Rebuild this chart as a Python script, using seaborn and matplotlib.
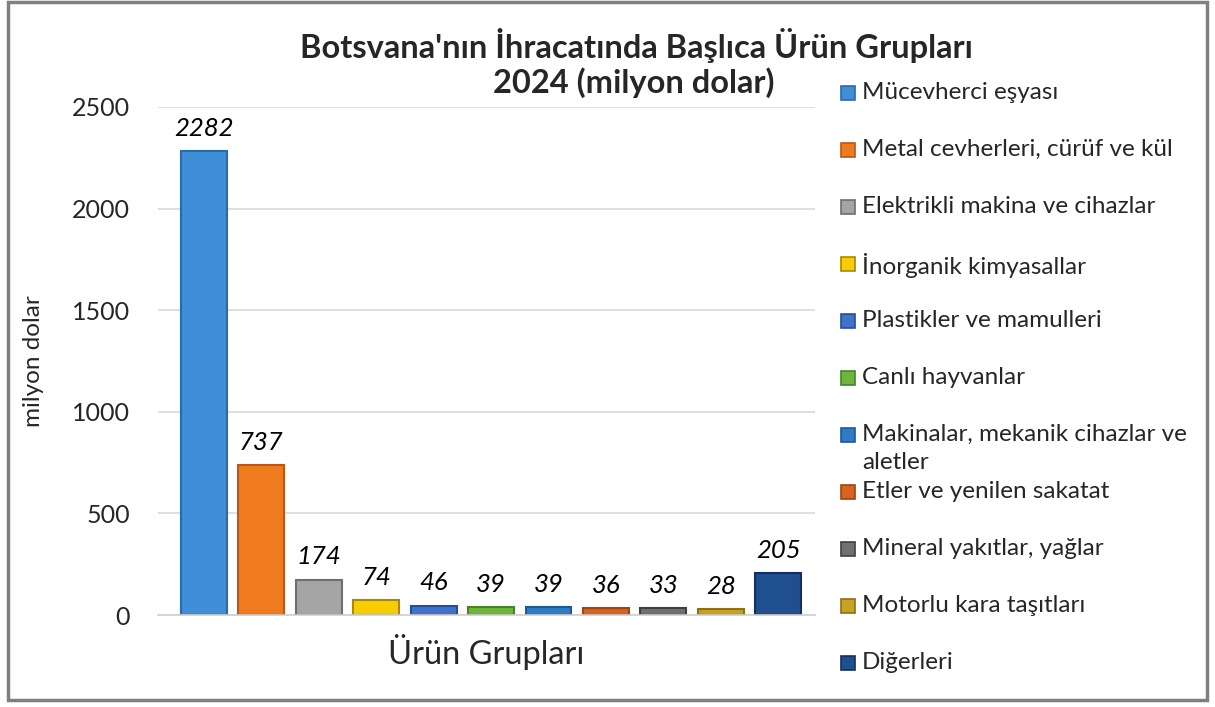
import matplotlib
matplotlib.use("Agg")
import matplotlib.pyplot as plt
import seaborn as sns
import pandas as pd
from matplotlib.patches import Rectangle

categories = [
    "Mücevherci eşyası",
    "Metal cevherleri, cürüf ve kül",
    "Elektrikli makina ve cihazlar",
    "İnorganik kimyasallar",
    "Plastikler ve mamulleri",
    "Canlı hayvanlar",
    "Makinalar, mekanik cihazlar ve\naletler",
    "Etler ve yenilen sakatat",
    "Mineral yakıtlar, yağlar",
    "Motorlu kara taşıtları",
    "Diğerleri",
]
values = [2282, 737, 174, 74, 46, 39, 39, 36, 33, 28, 205]
colors = ["#3E8FD8", "#F07A1E", "#A5A5A5", "#F7CC00", "#3F73C9", "#6DB53B",
          "#2E7CC4", "#D8621F", "#707070", "#C9A122", "#1F4F8E"]
edges = ["#2B6AA6", "#B8581A", "#6E6E6E", "#A88A00", "#274E94", "#4A8228",
         "#1F5A92", "#9E4514", "#404040", "#8E7014", "#142F5C"]

sns.set_style("white")
plt.rcParams['font.family'] = ['Lato', 'DejaVu Sans']

df = pd.DataFrame({"cat": categories, "val": values})

fig = plt.figure(figsize=(12.15, 7.07), dpi=100)
ax = fig.add_axes([0.130, 0.1301, 0.5408, 0.7186])

sns.barplot(data=df, x="cat", y="val", hue="cat", palette=colors,
            legend=False, width=0.8, ax=ax, saturation=1)
for p, ec in zip(ax.patches, edges):
    p.set_edgecolor(ec)
    p.set_linewidth(1.5)

# data labels
for i, v in enumerate(values):
    ax.text(i, v + 55, str(v), ha="center", va="bottom",
            fontsize=18.5, fontstyle="italic", color="black")

ax.set_xlim(-0.80, 10.64)
ax.set_ylim(0, 2500)
ax.set_yticks([0, 500, 1000, 1500, 2000, 2500])
ax.yaxis.grid(True, color="#d9d9d9", linewidth=1.2)
ax.set_axisbelow(True)
for s in ["top", "right", "left"]:
    ax.spines[s].set_visible(False)
ax.spines["bottom"].set_color("#d0d0d0")
ax.spines["bottom"].set_linewidth(1.2)
ax.tick_params(axis="y", length=0, pad=20, labelsize=18)
ax.set_xticks([])
ax.set_xlabel("Ürün Grupları", fontsize=23.5, labelpad=14)
ax.set_ylabel("milyon dolar", fontsize=17.5, labelpad=20)

fig.text(0.524, 0.935, "Botsvana'nın İhracatında Başlıca Ürün Grupları",
         ha="center", va="center", fontsize=23.5, fontweight="bold")
fig.text(0.522, 0.883, "2024 (milyon dolar)",
         ha="center", va="center", fontsize=23.5, fontweight="bold")

# legend drawn row by row
row_y0 = 707 - 93
row_step = 57
for i, (lab, c, ec) in enumerate(zip(categories, colors, edges)):
    yc = (row_y0 - i * row_step) / 707
    fig.patches.append(Rectangle((841 / 1215, yc - 7 / 707), 14 / 1215, 14 / 707,
                                 transform=fig.transFigure, facecolor=c,
                                 edgecolor=ec, linewidth=1.2))
    fig.text(862 / 1215, yc + 11 / 707, lab, ha="left", va="top",
             fontsize=17.5, linespacing=1.4)

# outer frame
fig.patches.append(Rectangle((8 / 1215, 7 / 707), 1199 / 1215, 698 / 707,
                             transform=fig.transFigure, fill=False,
                             edgecolor="#808080", linewidth=2.5))

fig.savefig("out.png", dpi=100, facecolor="white")
